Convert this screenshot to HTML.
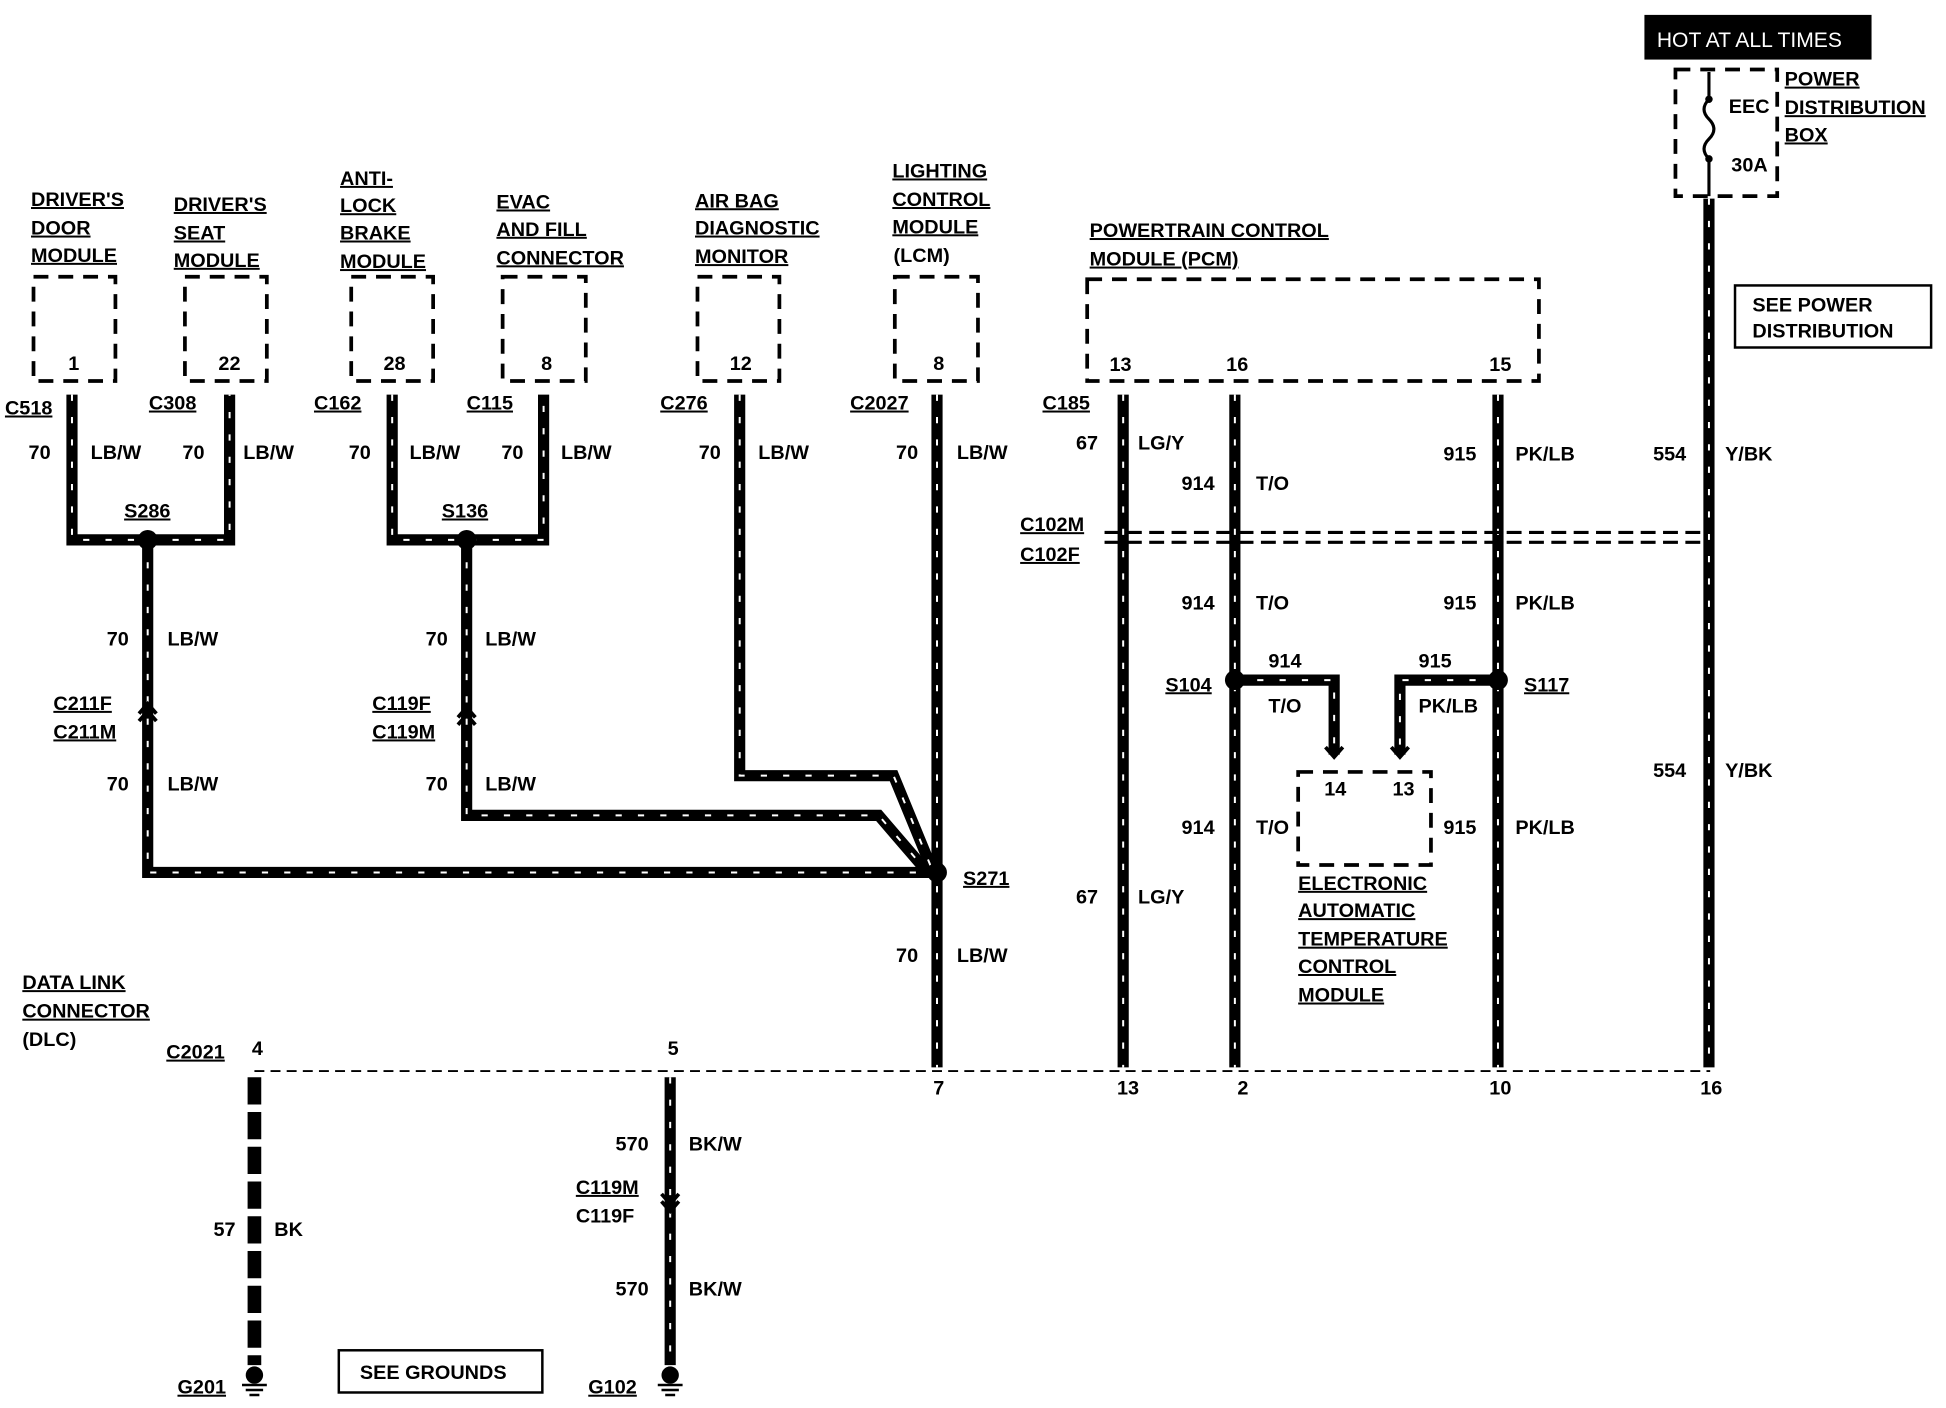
<!DOCTYPE html>
<html><head><meta charset="utf-8">
<style>
html,body{margin:0;padding:0;background:#fff;}
svg{display:block;}
text{font-family:"Liberation Sans",Arial,sans-serif;font-weight:bold;font-size:16px;fill:#000;}
.u{text-decoration:underline;}
.s{font-size:11px;font-weight:normal;}
.w{fill:none;stroke:#000;stroke-width:9;}
.t{fill:none;stroke:#fff;stroke-width:1.6;stroke-dasharray:5 13;}
.db{fill:none;stroke:#000;stroke-width:3;stroke-dasharray:12 8;}
</style></head><body>
<svg width="1946" height="1408" viewBox="0 0 1568 1134.5" preserveAspectRatio="none" xmlns="http://www.w3.org/2000/svg">
<defs>
<g id="wires" fill="none">
<path d="M58 318V435H185V318"/>
<path d="M316 318V435H438V318"/>
<path d="M119 435V703H755"/>
<path d="M376 435V657H708L745 700"/>
<path d="M596 318V625H720L750 698"/>
<path d="M755 318V860"/>
<path d="M905 318V860"/>
<path d="M995 318V860"/>
<path d="M1207 318V860"/>
<path d="M1377 160V860"/>
<path d="M995 548H1075V608"/>
<path d="M1207 548H1128V608"/>
<path d="M540 868V1100"/>
</g>
</defs>
<rect width="1568" height="1135" fill="#fff"/>
<g class="db">
<rect x="27" y="223" width="66" height="84"/>
<rect x="149" y="223" width="66" height="84"/>
<rect x="283" y="223" width="66" height="84"/>
<rect x="405" y="223" width="67" height="84"/>
<rect x="562" y="223" width="66" height="84"/>
<rect x="721" y="223" width="67" height="84"/>
<rect x="876" y="225" width="364" height="82"/>
<rect x="1046" y="622" width="107" height="75"/>
<rect x="1350" y="56" width="82" height="102"/>
</g>
<use href="#wires" class="w"/>
<use href="#wires" class="t"/>
<path d="M205 868V1100" stroke="#000" stroke-width="11" stroke-dasharray="22 6" fill="none"/>
<g fill="none" stroke="#000" stroke-width="3">
<path d="M112 575l7-8 7 8M112 581l7-8 7 8"/>
<path d="M369 578l7-8 7 8M369 584l7-8 7 8"/>
<path d="M533 962l7 8 7-8M533 968l7 8 7-8"/>
<path d="M1068 602l7 8 7-8M1121 602l7 8 7-8"/>
</g>
<g stroke="#000" stroke-width="2.5" stroke-dasharray="12 6">
<line x1="890" y1="429" x2="1380" y2="429"/>
<line x1="890" y1="437" x2="1380" y2="437"/>
<line x1="205" y1="863" x2="1378" y2="863" stroke-width="1.5" stroke-dasharray="8 5"/>
</g>
<g fill="#000">
<circle cx="119" cy="435" r="8"/><circle cx="376" cy="435" r="8"/>
<circle cx="755" cy="703" r="8"/><circle cx="995" cy="548" r="8"/><circle cx="1207" cy="548" r="8"/>
<circle cx="205" cy="1108" r="7"/><circle cx="540" cy="1108" r="7"/>
</g>
<g stroke="#000" stroke-width="2">
<path d="M195 1116h20M198 1120h14M201 1124h8"/>
<path d="M530 1116h20M533 1120h14M536 1124h8"/>
</g>
<path d="M1377 58V80q-8 8 0 16t0 16t0 16V158" fill="none" stroke="#000" stroke-width="2.5"/>
<circle cx="1377" cy="80" r="3"/><circle cx="1377" cy="128" r="3"/>
<rect x="1325" y="12" width="183" height="36" fill="#000"/>
<text x="1335" y="38" style="fill:#fff;font-weight:normal;font-size:17px">HOT AT ALL TIMES</text>
<rect x="1398" y="230" width="158" height="50" fill="none" stroke="#000" stroke-width="2"/>
<text x="1412" y="251">SEE POWER</text><text x="1412" y="272">DISTRIBUTION</text>
<rect x="273" y="1088" width="164" height="34" fill="none" stroke="#000" stroke-width="2"/>
<text x="290" y="1111">SEE GROUNDS</text>
<g class="u">
<text x="25" y="166">DRIVER'S</text><text x="25" y="189">DOOR</text><text x="25" y="211">MODULE</text>
<text x="140" y="170">DRIVER'S</text><text x="140" y="193">SEAT</text><text x="140" y="215">MODULE</text>
<text x="274" y="149">ANTI-</text><text x="274" y="171">LOCK</text><text x="274" y="193">BRAKE</text><text x="274" y="216">MODULE</text>
<text x="400" y="168">EVAC</text><text x="400" y="190">AND FILL</text><text x="400" y="213">CONNECTOR</text>
<text x="560" y="167">AIR BAG</text><text x="560" y="189">DIAGNOSTIC</text><text x="560" y="212">MONITOR</text>
<text x="719" y="143">LIGHTING</text><text x="719" y="166">CONTROL</text><text x="719" y="188">MODULE</text>
<text x="878" y="191">POWERTRAIN CONTROL</text><text x="878" y="214">MODULE (PCM)</text>
<text x="1438" y="69">POWER</text><text x="1438" y="92">DISTRIBUTION</text><text x="1438" y="114">BOX</text>
<text x="1046" y="717">ELECTRONIC</text><text x="1046" y="739">AUTOMATIC</text><text x="1046" y="762">TEMPERATURE</text><text x="1046" y="784">CONTROL</text><text x="1046" y="807">MODULE</text>
<text x="18" y="797">DATA LINK</text><text x="18" y="820">CONNECTOR</text>
<text x="4" y="334">C518</text><text x="120" y="330">C308</text><text x="253" y="330">C162</text><text x="376" y="330">C115</text>
<text x="532" y="330">C276</text><text x="685" y="330">C2027</text><text x="840" y="330">C185</text>
<text x="100" y="417">S286</text><text x="356" y="417">S136</text><text x="776" y="713">S271</text>
<text x="939" y="557">S104</text><text x="1228" y="557">S117</text>
<text x="43" y="572">C211F</text><text x="43" y="595">C211M</text>
<text x="300" y="572">C119F</text><text x="300" y="595">C119M</text>
<text x="464" y="962">C119M</text>
<text x="822" y="428">C102M</text><text x="822" y="452">C102F</text>
<text x="134" y="853">C2021</text><text x="143" y="1123">G201</text><text x="474" y="1123">G102</text>
</g>
<text x="720" y="211">(LCM)</text><text x="18" y="843">(DLC)</text>
<text x="464" y="985">C119F</text>
<g>
<text x="23" y="370">70</text><text x="73" y="370">LB/W</text>
<text x="147" y="370">70</text><text x="196" y="370">LB/W</text>
<text x="281" y="370">70</text><text x="330" y="370">LB/W</text>
<text x="404" y="370">70</text><text x="452" y="370">LB/W</text>
<text x="563" y="370">70</text><text x="611" y="370">LB/W</text>
<text x="722" y="370">70</text><text x="771" y="370">LB/W</text>
<text x="86" y="520">70</text><text x="135" y="520">LB/W</text>
<text x="86" y="637">70</text><text x="135" y="637">LB/W</text>
<text x="343" y="520">70</text><text x="391" y="520">LB/W</text>
<text x="343" y="637">70</text><text x="391" y="637">LB/W</text>
<text x="722" y="775">70</text><text x="771" y="775">LB/W</text>
<text x="867" y="362">67</text><text x="917" y="362">LG/Y</text>
<text x="867" y="728">67</text><text x="917" y="728">LG/Y</text>
<text x="952" y="395">914</text><text x="1012" y="395">T/O</text>
<text x="952" y="491">914</text><text x="1012" y="491">T/O</text>
<text x="952" y="672">914</text><text x="1012" y="672">T/O</text>
<text x="1022" y="538">914</text><text x="1022" y="574">T/O</text>
<text x="1143" y="538">915</text><text x="1143" y="574">PK/LB</text>
<text x="1163" y="371">915</text><text x="1221" y="371">PK/LB</text>
<text x="1163" y="491">915</text><text x="1221" y="491">PK/LB</text>
<text x="1163" y="672">915</text><text x="1221" y="672">PK/LB</text>
<text x="1332" y="371">554</text><text x="1390" y="371">Y/BK</text>
<text x="1332" y="626">554</text><text x="1390" y="626">Y/BK</text>
<text x="172" y="996">57</text><text x="221" y="996">BK</text>
<text x="496" y="927">570</text><text x="555" y="927">BK/W</text>
<text x="496" y="1044">570</text><text x="555" y="1044">BK/W</text>
</g>
<g class="s">
<text x="55" y="298">1</text><text x="176" y="298">22</text><text x="309" y="298">28</text><text x="436" y="298">8</text>
<text x="588" y="298">12</text><text x="752" y="298">8</text>
<text x="894" y="299">13</text><text x="988" y="299">16</text><text x="1200" y="299">15</text>
<text x="1067" y="641">14</text><text x="1122" y="641">13</text>
<text x="1393" y="91">EEC</text><text x="1395" y="138">30A</text>
<text x="203" y="850">4</text><text x="538" y="850">5</text><text x="752" y="882">7</text>
<text x="900" y="882">13</text><text x="997" y="882">2</text><text x="1200" y="882">10</text><text x="1370" y="882">16</text>
</g>
</svg>
</body></html>
